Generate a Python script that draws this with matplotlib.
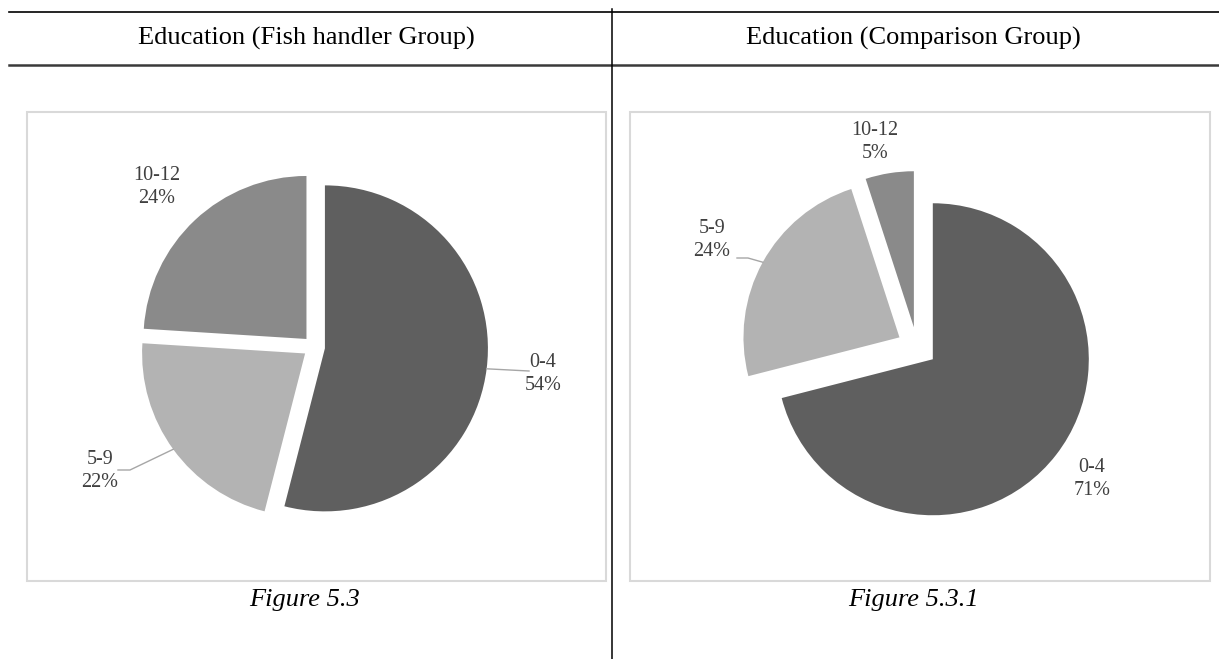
import matplotlib
matplotlib.use("Agg")
from matplotlib import pyplot as plt
from matplotlib.patches import Rectangle
import numpy as np

# education level shares (%)
levels = ['0-4', '5-9', '10-12']
fish_pct = [54, 22, 24]
comp_pct = [71, 24, 5]
slice_colors = ['#5f5f5f', '#b3b3b3', '#8a8a8a']

titles = ['Education (Fish handler Group)', 'Education (Comparison Group)']
captions = ['Figure 5.3', 'Figure 5.3.1']

W, H = 1219, 659
plt.rcParams['font.family'] = ['Liberation Serif', 'DejaVu Serif']


def py(y):
    # page style coordinates: y grows downward
    return H - y


fig = plt.figure(figsize=(W / 100, H / 100), dpi=100)
ax = fig.add_axes([0, 0, 1, 1])

# table rules
ax.plot([9, W], [py(12), py(12)], color='black', lw=1.2)
ax.plot([9, W], [py(65), py(65)], color='#3a3a3a', lw=1.8)
ax.plot([612, 612], [py(9), py(H)], color='black', lw=1.1)

# chart frames
for x0, x1 in [(27, 606), (630, 1210)]:
    ax.add_patch(Rectangle((x0, py(581)), x1 - x0, 581 - 112, fill=False,
                           edgecolor='#d9d9d9', lw=1.5))

for txt, cx in zip(titles, [306, 913]):
    ax.text(cx, py(38), txt, ha='center', va='center', fontsize=19, color='black')
for txt, cx in zip(captions, [305, 913]):
    ax.text(cx, py(600), txt, ha='center', va='center', fontsize=19,
            style='italic', color='black')


def draw_pie(values, center, radius, gap, label_pos, leaders):
    # explode is in data units here (pixels), not a fraction of the radius
    wedges, _ = ax.pie(values, colors=slice_colors, startangle=90,
                       counterclock=False, radius=radius,
                       center=(center[0], py(center[1])),
                       explode=[gap] * len(values),
                       wedgeprops=dict(linewidth=0), frame=True)
    for w, lab, val, pos in zip(wedges, levels, values, label_pos):
        ax.text(pos[0], py(pos[1]), f'{lab}\n{val}%', ha='center', va='center',
                fontsize=14.5, color='#404040', linespacing=1.25)
        if lab in leaders:
            mid = np.deg2rad((w.theta1 + w.theta2) / 2)
            ax_pt = (w.center[0] + w.r * np.cos(mid), w.center[1] + w.r * np.sin(mid))
            pts = [ax_pt] + [(x, py(y)) for x, y in leaders[lab]]
            ax.plot([p[0] for p in pts], [p[1] for p in pts],
                    color='#a6a6a6', lw=1)


draw_pie(fish_pct, (314, 347), 163, 11,
         [(543, 374), (100, 471), (157, 187)],
         {'0-4': [(529, 371)], '5-9': [(130, 470), (118, 470)]})
draw_pie(comp_pct, (917, 347), 156, 20,
         [(1092, 479), (712, 240), (875, 142)],
         {'5-9': [(748, 258), (737, 258)]})

ax.set_xlim(0, W)
ax.set_ylim(0, H)
ax.set_aspect('auto')
ax.axis('off')

fig.savefig('out.png', dpi=100)
